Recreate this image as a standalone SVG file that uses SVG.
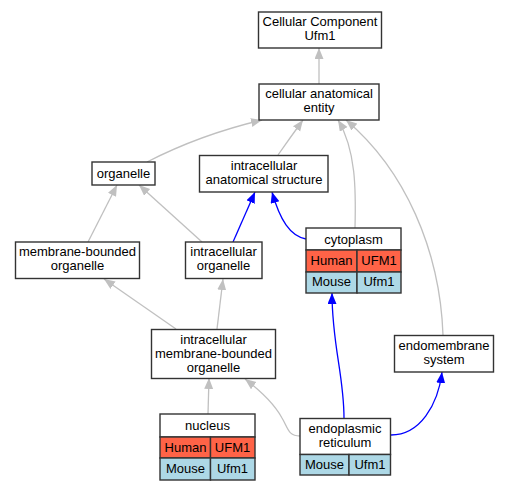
<svg xmlns="http://www.w3.org/2000/svg" width="509" height="491" viewBox="0 0 509 491">
<style>
text{font-family:"Liberation Sans",Arial,sans-serif;font-size:13px;text-anchor:middle;fill:#000}
.n{fill:#fff;stroke:#333;stroke-width:1.4}
.h{fill:#ff6347;stroke:#333;stroke-width:1.4}
.m{fill:#add8e6;stroke:#333;stroke-width:1.4}
.g{fill:none;stroke:#c0c0c0;stroke-width:1.3}
.b{fill:none;stroke:#0000ff;stroke-width:1.3}
</style>
<defs>
<marker id="ag" markerUnits="userSpaceOnUse" markerWidth="12" markerHeight="10" refX="11" refY="4.5" orient="auto"><path d="M0,0 L11,4.5 L0,9 z" fill="#c0c0c0"/></marker>
<marker id="ab" markerUnits="userSpaceOnUse" markerWidth="12" markerHeight="10" refX="11" refY="4.5" orient="auto"><path d="M0,0 L11,4.5 L0,9 z" fill="#0000ff"/></marker>
</defs>
<rect width="509" height="491" fill="#fff"/>
<g id="edges">
<path class="g" marker-end="url(#ag)" d="M319,84 L319,48"/>
<path class="g" marker-end="url(#ag)" d="M147,162 C180,145 220,130 262,120"/>
<path class="g" marker-end="url(#ag)" d="M278,155 C285,145 295,131 303,120"/>
<path class="g" marker-end="url(#ag)" d="M355,228 C356,190 356,150 338,120"/>
<path class="g" marker-end="url(#ag)" d="M443,335 C440,250 405,170 346,120"/>
<path class="g" marker-end="url(#ag)" d="M88,242 L117,185"/>
<path class="g" marker-end="url(#ag)" d="M202,242 L139,185"/>
<path class="b" marker-end="url(#ab)" d="M233,242 L255,192"/>
<path class="b" marker-end="url(#ab)" d="M306,239 C290,236 280,220 272,192"/>
<path class="g" marker-end="url(#ag)" d="M176,329 L104,279"/>
<path class="g" marker-end="url(#ag)" d="M217,329 L223,279"/>
<path class="g" marker-end="url(#ag)" d="M208,414 L209,378"/>
<path class="g" marker-end="url(#ag)" d="M300,436 C288,436 288,428 282,418 C275,405 262,392 245,379"/>
<path class="b" marker-end="url(#ab)" d="M344,418 C344,375 332,345 332,293"/>
<path class="b" marker-end="url(#ab)" d="M391,435 C420,435 438,405 442,372"/>
</g>
<g id="cc"><rect class="n" x="258.5" y="12" width="123" height="36"/><text x="320" y="26">Cellular Component</text><text x="320" y="40">Ufm1</text></g>
<g id="cae"><rect class="n" x="259" y="84" width="120" height="36"/><text x="319" y="98">cellular anatomical</text><text x="319" y="112">entity</text></g>
<g id="organelle"><rect class="n" x="92" y="162" width="63" height="23"/><text x="123.5" y="178">organelle</text></g>
<g id="ias"><rect class="n" x="199.5" y="155.5" width="128.5" height="36.5"/><text x="264" y="170">intracellular</text><text x="264" y="184">anatomical structure</text></g>
<g id="cytoplasm">
<rect class="n" x="306" y="228" width="95" height="22"/><text x="353.5" y="244">cytoplasm</text>
<rect class="h" x="306" y="250" width="51" height="22"/><text x="331.5" y="265">Human</text>
<rect class="h" x="357" y="250" width="44" height="22"/><text x="379" y="265">UFM1</text>
<rect class="m" x="306" y="272" width="51" height="21"/><text x="331.5" y="286">Mouse</text>
<rect class="m" x="357" y="272" width="44" height="21"/><text x="379" y="286">Ufm1</text>
</g>
<g id="mbo"><rect class="n" x="15.5" y="242" width="124" height="36.5"/><text x="77.5" y="256">membrane-bounded</text><text x="77.5" y="270">organelle</text></g>
<g id="io"><rect class="n" x="185.5" y="242" width="76.5" height="36.5"/><text x="223.5" y="256">intracellular</text><text x="223.5" y="270">organelle</text></g>
<g id="imbo"><rect class="n" x="151.5" y="329.5" width="124" height="49"/><text x="213.5" y="344">intracellular</text><text x="213.5" y="358">membrane-bounded</text><text x="213.5" y="372">organelle</text></g>
<g id="ems"><rect class="n" x="394.5" y="335.5" width="99" height="36.5"/><text x="444" y="350">endomembrane</text><text x="444" y="364">system</text></g>
<g id="nucleus">
<rect class="n" x="160" y="414" width="95" height="23"/><text x="207.5" y="430">nucleus</text>
<rect class="h" x="160" y="437" width="50.5" height="21"/><text x="185.5" y="452">Human</text>
<rect class="h" x="210.5" y="437" width="44.5" height="21"/><text x="232.5" y="452">UFM1</text>
<rect class="m" x="160" y="458" width="50.5" height="22"/><text x="185.5" y="473">Mouse</text>
<rect class="m" x="210.5" y="458" width="44.5" height="22"/><text x="232.5" y="473">Ufm1</text>
</g>
<g id="er">
<rect class="n" x="300" y="418.5" width="90.5" height="36"/><text x="345" y="433">endoplasmic</text><text x="345" y="447">reticulum</text>
<rect class="m" x="300" y="454.5" width="49" height="20.5"/><text x="324.5" y="469">Mouse</text>
<rect class="m" x="349" y="454.5" width="41.5" height="20.5"/><text x="370" y="469">Ufm1</text>
</g>
</svg>
